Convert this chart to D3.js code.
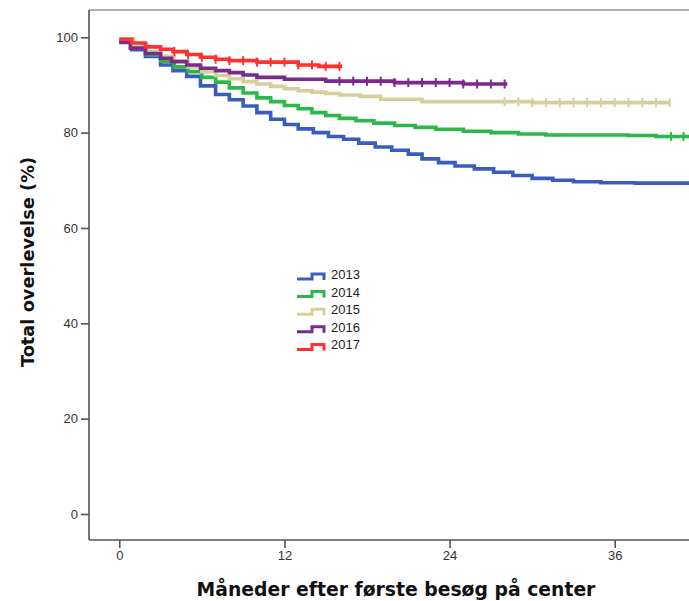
<!DOCTYPE html>
<html>
<head>
<meta charset="utf-8">
<script src="https://cdn.jsdelivr.net/npm/d3@7"></script>
<style>
  body { margin: 0; background: #fff; }
  svg { display: block; }
</style>
</head>
<body>
<svg width="689" height="601"></svg>
<script>
// cohort years and their colours
const years = ['2013', '2014', '2015', '2016', '2017'];
const colors = ['#3b5cbf', '#2cb848', '#d5cf9c', '#7a2b8b', '#ff3030'];

// step curves: month of each step and survival (%) from that month on
const t2013 = [0, 0.9, 1.9, 3, 3.9, 4.9, 5.9, 7, 8, 9, 10, 11, 12, 13, 14.1, 15.2, 16.3, 17.4, 18.6, 19.8, 21, 22, 23.2, 24.4, 25.8, 27.2, 28.6, 30, 31.5, 33, 35, 37.5];
const s2013 = [99, 97.4, 96, 94.2, 93, 91.8, 89.8, 88, 86.9, 85.6, 84.2, 82.8, 81.7, 80.8, 80, 79.2, 78.6, 77.8, 77, 76.3, 75.5, 74.5, 73.7, 73, 72.4, 71.7, 71, 70.4, 70, 69.7, 69.5, 69.4];
const t2014 = [0, 1, 2, 3, 4, 5, 6, 7, 8, 9, 10, 11, 12, 13, 14, 15, 16, 17.2, 18.5, 20, 21.5, 23, 25, 27, 29, 31, 37, 39];
const s2014 = [99.2, 97.8, 96.3, 95, 93.8, 92.8, 91.6, 90.6, 89.4, 88.3, 87.3, 86.5, 85.7, 85, 84.2, 83.6, 83, 82.5, 82, 81.5, 81.1, 80.7, 80.3, 80, 79.7, 79.5, 79.4, 79.2];
const t2015 = [0, 1, 2, 3, 4, 5, 6, 7, 8, 9, 10, 11, 12, 13, 14, 15, 16, 17.5, 19, 22, 30];
const s2015 = [99.7, 98.5, 97, 96, 95, 93.8, 92.8, 92, 91.3, 90.7, 90.2, 89.7, 89.2, 88.8, 88.5, 88.2, 87.9, 87.6, 87, 86.5, 86.3];
const t2016 = [0, 0.8, 1.9, 3, 3.8, 4.9, 5.9, 7, 8, 9, 10, 12, 15, 20, 25];
const s2016 = [98.9, 97.7, 96.6, 95.6, 94.9, 94.2, 93.5, 93, 92.6, 92.1, 91.6, 91.2, 90.8, 90.5, 90.2];
const t2017 = [0, 0.9, 1.9, 3, 3.9, 4.9, 5.9, 7, 8, 10, 13, 14.5];
const s2017 = [99.6, 98.8, 98, 97.5, 97, 96.4, 95.8, 95.4, 95.1, 94.8, 94.2, 93.9];

// last month followed and censoring marks
const ends = [42, 42, 40, 28.2, 16.2];
const c2013 = [];
const c2014 = [40.1, 41];
const c2015 = [28, 29, 30, 31, 32, 33, 34, 35, 36, 37, 38, 39, 40];
const c2016 = [16, 17, 18, 19, 20, 21, 22, 23, 24, 25, 26, 27, 28];
const c2017 = [4, 5, 6, 7, 8, 9, 10, 11, 12, 13, 14, 15, 16];

const xTicks = [0, 12, 24, 36];
const yTicks = [0, 20, 40, 60, 80, 100];

const times = [t2013, t2014, t2015, t2016, t2017];
const surv = [s2013, s2014, s2015, s2016, s2017];
const cens = [c2013, c2014, c2015, c2016, c2017];

const svg = d3.select('svg');
const plotL = 89, plotR = 689, plotT = 10, plotB = 540;

const x = d3.scaleLinear().domain([0, 36]).range([119.3, 614.7]);
const y = d3.scaleLinear().domain([0, 100]).range([514, 37.3]);

svg.append('defs').append('clipPath').attr('id', 'plot')
  .append('rect').attr('x', plotL).attr('y', plotT)
  .attr('width', plotR - plotL).attr('height', plotB - plotT);

// frame top line
svg.append('line')
  .attr('x1', plotL).attr('x2', plotR).attr('y1', plotT).attr('y2', plotT)
  .attr('stroke', '#999').attr('stroke-width', 1.5);

const line = d3.line()
  .x(d => x(d[0])).y(d => y(d[1]))
  .curve(d3.curveStepAfter);

function survAt(k, t) {
  const i = d3.bisectRight(times[k], t) - 1;
  return surv[k][Math.max(0, i)];
}

const plot = svg.append('g').attr('clip-path', 'url(#plot)');

years.forEach((yr, k) => {
  const pts = times[k].map((t, i) => [t, surv[k][i]]);
  pts.push([ends[k], surv[k][surv[k].length - 1]]);
  plot.append('path')
    .attr('d', line(pts))
    .attr('fill', 'none')
    .attr('stroke', colors[k])
    .attr('stroke-width', 3.6)
    .attr('stroke-linejoin', 'miter');

  plot.selectAll(null)
    .data(cens[k])
    .enter()
    .append('line')
    .attr('x1', d => x(d)).attr('x2', d => x(d))
    .attr('y1', d => y(survAt(k, d)) - 4.5)
    .attr('y2', d => y(survAt(k, d)) + 4.5)
    .attr('stroke', colors[k])
    .attr('stroke-width', 2);
});

// axes
const yAxis = svg.append('g')
  .attr('transform', 'translate(' + plotL + ',0)')
  .call(d3.axisLeft(y).tickValues(yTicks).tickSize(8).tickPadding(3).tickSizeOuter(0));
yAxis.select('.domain').attr('d', 'M0,' + plotT + 'V' + plotB);

const xAxis = svg.append('g')
  .attr('transform', 'translate(0,' + plotB + ')')
  .call(d3.axisBottom(x).tickValues(xTicks).tickSize(8).tickPadding(3).tickSizeOuter(0));
xAxis.select('.domain').attr('d', 'M' + plotL + ',0H' + plotR);

svg.selectAll('.domain').attr('stroke', '#555').attr('stroke-width', 1.6);
svg.selectAll('.tick line').attr('stroke', '#555').attr('stroke-width', 1.6);
svg.selectAll('.tick text')
  .attr('font-family', 'Liberation Sans, Arial, sans-serif')
  .attr('font-size', 13)
  .attr('fill', '#333');

// axis titles
svg.append('text')
  .attr('x', 396).attr('y', 596)
  .attr('text-anchor', 'middle')
  .attr('font-family', 'DejaVu Sans, sans-serif')
  .attr('font-weight', 'bold')
  .attr('font-size', 18.8)
  .attr('fill', '#111')
  .text('Måneder efter første besøg på center');

svg.append('text')
  .attr('transform', 'translate(34,262) rotate(-90)')
  .attr('text-anchor', 'middle')
  .attr('font-family', 'DejaVu Sans, sans-serif')
  .attr('font-weight', 'bold')
  .attr('font-size', 17.8)
  .attr('fill', '#111')
  .text('Total overlevelse (%)');

// legend
const legend = svg.append('g').attr('transform', 'translate(297,279)');
years.forEach((yr, k) => {
  const g = legend.append('g').attr('transform', 'translate(0,' + (k * 17.6) + ')');
  g.append('path')
    .attr('d', 'M0,0H15V-5H27V1')
    .attr('fill', 'none')
    .attr('stroke', colors[k])
    .attr('stroke-width', 3);
  g.append('text')
    .attr('x', 34).attr('y', 0)
    .attr('font-family', 'Liberation Sans, Arial, sans-serif')
    .attr('font-size', 13)
    .attr('fill', '#222')
    .text(yr);
});
</script>
</body>
</html>
